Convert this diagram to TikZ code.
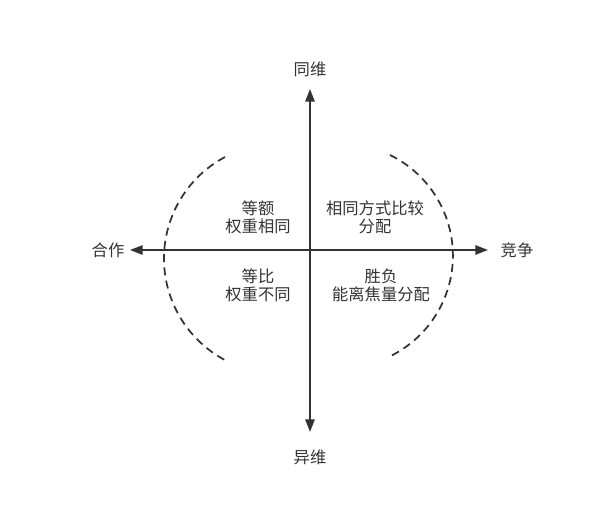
\documentclass[tikz,border=0pt]{standalone}
\usepackage{fontspec}
\setmainfont{Noto Sans CJK SC}
\usetikzlibrary{arrows.meta}
\definecolor{axisgray}{HTML}{333333}
\begin{document}
\begin{tikzpicture}[x=0.75pt, y=-0.75pt,
    every node/.style={font=\fontsize{12.2}{13.5}\selectfont, text=axisgray, align=center},
    axis/.style={draw=axisgray, line width=1.3pt, {Triangle[length=9.5pt, width=7pt]}-{Triangle[length=9.5pt, width=7pt]}},
    rim/.style={draw=axisgray, line width=1.3pt, dash pattern=on 6pt off 4pt}]
    \useasboundingbox (0,0) rectangle (610,507);
    % axes
    \coordinate (T) at (310,89);
    \coordinate (B) at (310,432);
    \coordinate (L) at (130,250);
    \coordinate (R) at (488,250);
    \path [axis] (T) -- (B);
    \path [axis] (L) -- (R);
    % dashed rims
    \path [rim] (225,157) arc[start angle=242, end angle=118, radius=115];
    \path [rim] (390,155) arc[start angle=-64, end angle=64, radius=112];
    % labels
    \node (same) at (310,69) {同维};
    \node (diff) at (310,457) {异维};
    \node (coop) at (108,250) {合作};
    \node (comp) at (517,250) {竞争};
    \node (q1) at (258,217) {等额\\权重相同};
    \node (q2) at (375,217) {相同方式比较\\分配};
    \node (q3) at (258,285) {等比\\权重不同};
    \node (q4) at (381,285) {胜负\\能离焦量分配};
\end{tikzpicture}
\end{document}
